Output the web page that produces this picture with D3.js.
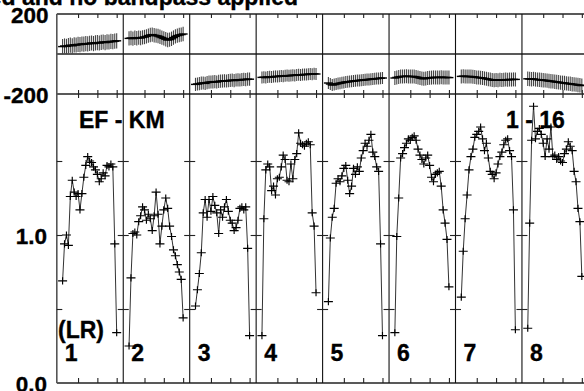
<!DOCTYPE html>
<html>
<head>
<meta charset="utf-8">
<script src="https://cdn.jsdelivr.net/npm/d3@7"></script>
<style>
html,body{margin:0;padding:0;background:#fff;overflow:hidden;}
svg{display:block;}
text{font-family:"Liberation Sans",Arial,Helvetica,sans-serif;font-weight:bold;fill:#000;stroke:#000;stroke-width:0.35px;}
</style>
</head>
<body>
<svg id="chart" width="584" height="391"></svg>
<script>
// ---- data ----
const ifNames = ["1","2","3","4","5","6","7","8"];
const channels = [2,3,4,5,6,7,8,9,10,11,12,13,14,15,16,17,18,19,20,21,22,23,24,25,26,27,28,29,30];
const chanTicks = [10,20,30];
const phaseTicks = [200,-200];
const ampTicks = [0.5,1.0,1.5];
const ampLabelTicks = [1.0,0.0];
const titleText = "Calibrated and no bandpass applied";
const baselineLabel = "EF - KM";
const antennaLabel = "1 - 16";
const stokesLabel = "(LR)";

const amp1 = [0.69,0.94,1.00,0.93,1.26,1.37,1.29,1.26,1.28,1.17,1.28,1.39,1.47,1.53,1.50,1.49,1.46,1.44,1.41,1.36,1.38,1.42,1.40,1.47,1.46,1.48,1.46,0.94,0.34];
const amp2 = [0.25,0.71,1.01,1.02,1.00,1.09,1.13,1.19,1.17,1.10,1.14,1.11,1.03,1.13,1.29,1.14,0.94,1.06,1.17,1.25,1.18,1.06,0.99,0.90,0.86,0.80,0.75,0.70,0.44];
const amp3 = [0.52,0.63,0.74,0.88,1.15,1.24,1.12,1.24,1.16,1.26,1.20,1.15,1.01,1.17,1.12,1.19,1.24,1.16,1.10,1.08,1.03,1.05,1.10,1.18,1.19,1.17,1.19,0.91,0.32];
const amp4 = [0.32,1.11,1.44,1.48,1.46,1.30,1.33,1.27,1.38,1.39,1.46,1.54,1.51,1.37,1.36,1.48,1.38,1.51,1.55,1.69,1.62,1.61,1.60,1.62,1.63,1.61,1.15,1.06,0.61];
const amp5 = [0.55,0.98,1.12,1.18,1.35,1.38,1.36,1.40,1.45,1.47,1.37,1.28,1.33,1.45,1.41,1.46,1.43,1.52,1.57,1.62,1.60,1.64,1.68,1.56,1.53,1.46,1.43,0.94,0.32];
const amp6 = [0.34,0.99,1.25,1.52,1.55,1.59,1.62,1.65,1.64,1.66,1.67,1.64,1.58,1.54,1.51,1.48,1.52,1.54,1.47,1.39,1.36,1.41,1.42,1.43,1.33,1.17,1.08,0.97,0.65];
const amp7 = [0.58,0.89,1.11,1.27,1.44,1.53,1.58,1.66,1.68,1.70,1.73,1.65,1.57,1.62,1.52,1.43,1.41,1.38,1.42,1.48,1.53,1.56,1.61,1.64,1.65,1.57,1.53,1.17,0.36];
const amp8 = [0.37,1.08,1.64,1.87,1.65,1.70,1.72,1.68,1.62,1.53,1.65,1.58,1.73,1.53,1.54,1.51,1.53,1.50,1.49,1.55,1.58,1.63,1.60,1.57,1.43,1.36,1.18,1.09,0.72];

const phase1 = [37,40,38,42,44,41,46,45,48,47,50,49,52,51,53,55,52,56,57,55,58,60,57,61,60,63,62,64,66];
const phase2 = [78,80,77,81,79,82,80,83,85,88,92,95,97,94,92,90,86,82,78,74,70,72,76,82,88,92,95,97,100];
const phase3 = [-152,-150,-148,-146,-145,-147,-143,-141,-140,-139,-138,-140,-137,-136,-135,-134,-135,-133,-132,-131,-133,-130,-129,-130,-128,-127,-128,-126,-126];
const phase4 = [-117,-116,-118,-115,-114,-115,-113,-112,-113,-111,-110,-111,-109,-108,-109,-107,-106,-107,-105,-104,-105,-103,-102,-103,-101,-100,-101,-99,-100];
const phase5 = [-145,-150,-155,-153,-150,-148,-146,-144,-142,-140,-139,-138,-136,-135,-134,-133,-132,-131,-130,-129,-128,-127,-126,-125,-124,-123,-122,-121,-120];
const phase6 = [-120,-117,-115,-113,-112,-112,-111,-112,-113,-112,-113,-115,-117,-120,-122,-124,-122,-120,-119,-118,-117,-117,-118,-117,-116,-117,-118,-117,-118];
const phase7 = [-112,-111,-112,-113,-112,-113,-114,-115,-117,-118,-119,-120,-122,-124,-126,-128,-130,-131,-130,-131,-129,-130,-129,-128,-129,-127,-128,-127,-127];
const phase8 = [-124,-125,-126,-125,-127,-128,-129,-130,-131,-132,-133,-135,-136,-137,-139,-140,-141,-143,-144,-145,-147,-148,-149,-151,-152,-153,-155,-156,-158];

const phaseErr = [38,36,33,30,30,35,35,36];
const ampErr = [0.024,0.024,0.024,0.024,0.024,0.024,0.024,0.024];

const ampSeries = [amp1,amp2,amp3,amp4,amp5,amp6,amp7,amp8];
const phaseSeries = [phase1,phase2,phase3,phase4,phase5,phase6,phase7,phase8];

// ---- layout ----
const svg = d3.select("#chart");
const left = 56.8, panelW = 66.45;
const phaseTop = 14, phaseBot = 94, ampBot = 383;

const xIF = d3.scaleBand().domain(ifNames).range([left, left + panelW*ifNames.length]).padding(0);
const xCh = d3.scaleLinear().domain([-1, 33.4]).range([0, xIF.bandwidth()]);
const yPh = d3.scaleLinear().domain([-200, 200]).range([phaseBot, phaseTop]);
const yAmp = d3.scaleLinear().domain([0, 289/148]).range([ampBot, phaseBot]);
const rightEdge = left + panelW*ifNames.length;

// title
svg.append("text").attr("x", 298).attr("y", 5).attr("text-anchor","end")
  .style("font-size","23px").text(titleText);

// frame lines (horizontal)
const hLines = [yPh(200), yPh(0), yPh(-200), yAmp(0)];
svg.selectAll("line.h").data(hLines).enter().append("line")
  .attr("x1", left).attr("x2", rightEdge).attr("y1", d=>d).attr("y2", d=>d)
  .attr("stroke","#222").attr("stroke-width",1.4);
// vertical separators
svg.selectAll("line.v").data(ifNames.concat(["end"])).enter().append("line")
  .attr("x1", d => d==="end" ? rightEdge : xIF(d))
  .attr("x2", d => d==="end" ? rightEdge : xIF(d))
  .attr("y1", phaseTop).attr("y2", ampBot)
  .attr("stroke", (d,i)=> i===0 ? "#555" : "#111").attr("stroke-width", (d,i)=> i===0 ? 1.6 : 1.1);

// ticks
function styleAxis(g){
  g.select(".domain").remove();
  g.selectAll(".tick line").attr("stroke","#222").attr("stroke-width",1.1);
  g.selectAll(".tick text").remove();
}
ifNames.forEach(name => {
  const x0 = xIF(name);
  svg.append("g").attr("transform",`translate(${x0},${yPh(200)})`)
    .call(d3.axisBottom(xCh).tickValues(chanTicks).tickSize(4)).call(styleAxis);
  svg.append("g").attr("transform",`translate(${x0},${yPh(-200)})`)
    .call(d3.axisTop(xCh).tickValues(chanTicks).tickSize(4)).call(styleAxis);
  svg.append("g").attr("transform",`translate(${x0},${yAmp(yAmp.domain()[1])})`)
    .call(d3.axisBottom(xCh).tickValues(chanTicks).tickSize(4)).call(styleAxis);
  svg.append("g").attr("transform",`translate(${x0},${yAmp(0)})`)
    .call(d3.axisTop(xCh).tickValues(chanTicks).tickSize(5)).call(styleAxis);
  svg.append("g").attr("transform",`translate(${x0},0)`)
    .call(d3.axisRight(yAmp).tickValues(ampTicks).tickSize(5.5)).call(styleAxis);
  if (x0 > left + 1) {
    svg.append("g").attr("transform",`translate(${x0},0)`)
      .call(d3.axisLeft(yAmp).tickValues(ampTicks).tickSize(5.5)).call(styleAxis);
  }
});

// y labels
svg.selectAll("text.ph").data(phaseTicks).enter().append("text")
  .attr("x", 48.5).attr("y", d => yPh(d) + 8.5).attr("text-anchor","end")
  .style("font-size","22.5px").text(d => d);
svg.selectAll("text.am").data(ampLabelTicks).enter().append("text")
  .attr("x", 47).attr("y", d => yAmp(d) + 8.5).attr("text-anchor","end")
  .style("font-size","22.5px").text(d => d.toFixed(1));

// panel labels
svg.append("text").attr("x", 79).attr("y", 127.5).style("font-size","23px")
  .attr("xml:space","preserve").text(baselineLabel);
svg.append("text").attr("x", 506).attr("y", 127.5).style("font-size","23px")
  .attr("xml:space","preserve").text(antennaLabel);
svg.append("text").attr("x", 58).attr("y", 338).style("font-size","23px").text(stokesLabel);
svg.selectAll("text.ifn").data(ifNames).enter().append("text")
  .attr("x", d => xIF(d) + 8).attr("y", 361).style("font-size","23px").text(d => d);

// data
const lineGen = d3.line();
ifNames.forEach((name, i) => {
  const x0 = xIF(name);
  const g = svg.append("g");
  const ptsPh = channels.map((c, k) => [x0 + xCh(c), yPh(phaseSeries[i][k])]);
  const ptsAm = channels.map((c, k) => [x0 + xCh(c), yAmp(ampSeries[i][k])]);
  g.selectAll("line.pe").data(channels).enter().append("line")
    .attr("x1", (c)=> x0 + xCh(c)).attr("x2", (c)=> x0 + xCh(c))
    .attr("y1", (c,k)=> yPh(phaseSeries[i][k] - phaseErr[i]))
    .attr("y2", (c,k)=> yPh(phaseSeries[i][k] + phaseErr[i]))
    .attr("stroke","#444").attr("stroke-width",1.1);
  g.append("path").attr("d", lineGen(ptsPh)).attr("fill","none")
    .attr("stroke","#111").attr("stroke-width",1);
  g.selectAll("line.ph").data(ptsPh).enter().append("line")
    .attr("x1", d=>d[0]-4.5).attr("x2", d=>d[0]+4.5).attr("y1", d=>d[1]).attr("y2", d=>d[1])
    .attr("stroke","#000").attr("stroke-width",1.4);
  g.append("path").attr("d", lineGen(ptsAm)).attr("fill","none")
    .attr("stroke","#333").attr("stroke-width",1);
  g.selectAll("path.pl").data(channels).enter().append("path")
    .attr("d", (c,k) => {
      const x = x0 + xCh(c), y = yAmp(ampSeries[i][k]);
      const e = yAmp(0) - yAmp(ampErr[i]);
      return `M${x-4.5},${y}h9M${x},${y-e}v${2*e}`;
    })
    .attr("fill","none").attr("stroke","#000").attr("stroke-width",1.15);
});
</script>
</body>
</html>
